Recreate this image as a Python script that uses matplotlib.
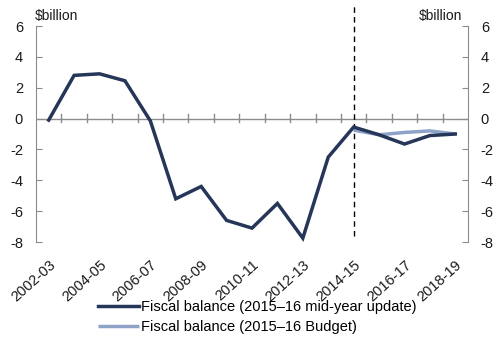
import matplotlib
matplotlib.use("Agg")
import matplotlib.pyplot as plt
import numpy as np

plt.rcParams['font.family'] = ['Liberation Sans', 'DejaVu Sans']

years = ["2002-03", "2003-04", "2004-05", "2005-06", "2006-07", "2007-08",
         "2008-09", "2009-10", "2010-11", "2011-12", "2012-13", "2013-14",
         "2014-15", "2015-16", "2016-17", "2017-18", "2018-19"]
midyear = [-0.1, 2.8, 2.9, 2.45, -0.15, -5.2, -4.4, -6.6, -7.1, -5.5, -7.75,
           -2.5, -0.55, -1.05, -1.65, -1.1, -1.0]
budget_years = ["2014-15", "2015-16", "2016-17", "2017-18", "2018-19"]
budget = [-0.75, -1.05, -0.9, -0.8, -1.0]
yticks = [6, 4, 2, 0, -2, -4, -6, -8]
ytick_labels = [str(v) for v in yticks]
label_years = years[::2]

dark = '#263659'
light = '#8FA3C9'
grey = '#8c8c8c'
text_col = '#1a1a1a'
fs = 10.5

fig = plt.figure(figsize=(4.95, 3.41), dpi=100)
ax = fig.add_axes([36 / 495, 1 - 242 / 341, 432 / 495, 216 / 341])

x = np.arange(len(years))
bx = [years.index(y) for y in budget_years]

ax.plot(bx, budget, color=light, lw=2.5, solid_capstyle='butt', zorder=3,
        label='Fiscal balance (2015\u201316 Budget)')
ax.plot(x, midyear, color=dark, lw=2.5, solid_joinstyle='miter', zorder=4,
        label='Fiscal balance (2015\u201316 mid-year update)')

ax.set_xlim(-0.5, len(years) - 0.5)
ax.set_ylim(-8, 6)

# horizontal axis runs along zero, with tick marks at category boundaries
for s in ['top', 'right', 'bottom']:
    ax.spines[s].set_visible(False)
ax.spines['left'].set_color(grey)
ax.axhline(0, color=grey, lw=1, zorder=1)
ax.set_xticks([])
for b in np.arange(1, len(years)) - 0.5:
    ax.plot([b, b], [-0.2, 0.28], color=grey, lw=1, zorder=1)

ax.set_yticks(yticks)
ax.set_yticklabels(ytick_labels)
ax.tick_params(axis='y', direction='in', length=4, color=grey,
               labelsize=fs, labelcolor=text_col, pad=9.4)

ax2 = ax.twinx()
ax2.set_ylim(-8, 6)
ax2.set_yticks(yticks)
ax2.set_yticklabels(ytick_labels)
for s in ['top', 'left', 'bottom']:
    ax2.spines[s].set_visible(False)
ax2.spines['right'].set_color(grey)
ax2.tick_params(axis='y', direction='in', length=4, color=grey,
                labelsize=fs, labelcolor=text_col, pad=9.2)

# category labels along the bottom
sec = ax.secondary_xaxis('bottom')
sec.set_xticks([years.index(y) for y in label_years])
sec.set_xticklabels(label_years, rotation=42, ha='right', va='top',
                    rotation_mode='anchor', fontsize=fs, color=text_col)
sec.tick_params(length=0, pad=11.5)
sec.spines['bottom'].set_visible(False)

# forecast divider
ax.axvline(years.index("2014-15"), ymin=0.028, ymax=1.097, color='black',
           lw=1, ls=(0, (4, 3)), clip_on=False, zorder=2)

fig.text(35 / 495, 1 - 16 / 341, '$billion', fontsize=10, color=text_col,
         ha='left', va='center')
fig.text(462 / 495, 1 - 16 / 341, '$billion', fontsize=10, color=text_col,
         ha='right', va='center')

h, l = ax.get_legend_handles_labels()
fig.legend(h[::-1], l[::-1], loc='upper left',
           bbox_to_anchor=(98 / 495, 1 - 300 / 341), frameon=False,
           fontsize=fs, handlelength=2.8, handletextpad=0.15,
           labelspacing=0.4, borderpad=0, borderaxespad=0)

fig.savefig('out.png', dpi=100)
